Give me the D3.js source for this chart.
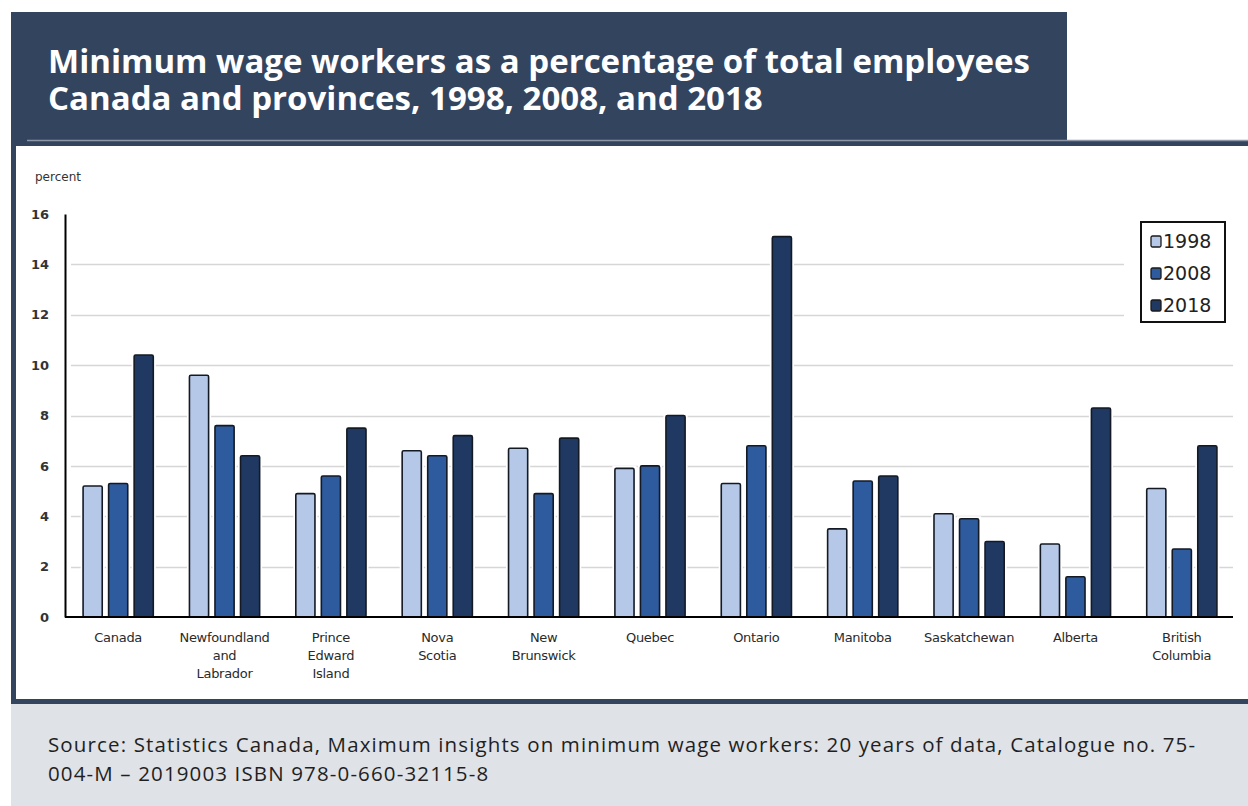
<!DOCTYPE html>
<html>
<head>
<meta charset="utf-8">
<script src="https://cdn.jsdelivr.net/npm/d3@7"></script>
<style>
  html, body { margin: 0; padding: 0; background: #ffffff; }
  svg { display: block; }
</style>
</head>
<body>
<svg id="chart" width="1248" height="806"></svg>
<script>
// Minimum wage workers as a share of employees, by province and year
const provinces = ["Canada", "Newfoundland and Labrador", "Prince Edward Island", "Nova Scotia",
  "New Brunswick", "Quebec", "Ontario", "Manitoba", "Saskatchewan", "Alberta", "British Columbia"];
const provinceLabelLines = [["Canada"], ["Newfoundland", "and", "Labrador"], ["Prince", "Edward", "Island"],
  ["Nova", "Scotia"], ["New", "Brunswick"], ["Quebec"], ["Ontario"], ["Manitoba"], ["Saskatchewan"],
  ["Alberta"], ["British", "Columbia"]];
const years = ["1998", "2008", "2018"];
const values1998 = [5.2, 9.6, 4.9, 6.6, 6.7, 5.9, 5.3, 3.5, 4.1, 2.9, 5.1];
const values2008 = [5.3, 7.6, 5.6, 6.4, 4.9, 6.0, 6.8, 5.4, 3.9, 1.6, 2.7];
const values2018 = [10.4, 6.4, 7.5, 7.2, 7.1, 8.0, 15.1, 5.6, 3.0, 8.3, 6.8];
const yTicks = [0, 2, 4, 6, 8, 10, 12, 14, 16];
const titleLines = ["Minimum wage workers as a percentage of total employees",
  "Canada and provinces, 1998, 2008, and 2018"];
const sourceLines = ["Source: Statistics Canada, Maximum insights on minimum wage workers: 20 years of data, Catalogue no. 75-",
  "004-M \u2013 2019003 ISBN 978-0-660-32115-8"];

const seriesValues = { "1998": values1998, "2008": values2008, "2018": values2018 };
const colors = { "1998": "#b6c8e8", "2008": "#2e5a9e", "2018": "#1f3963" };

const svg = d3.select("#chart");
const navy = "#33445f";

// Page frame: banner, chart panel border, footer
svg.append("rect").attr("x", 11).attr("y", 12).attr("width", 1056).attr("height", 130).attr("fill", navy);
svg.append("rect").attr("x", 11).attr("y", 140).attr("width", 1237).attr("height", 564).attr("fill", navy);
svg.append("line").attr("x1", 27).attr("x2", 1248).attr("y1", 140.5).attr("y2", 140.5)
  .attr("stroke", "#8d97a8").attr("stroke-width", 1.5);
svg.append("rect").attr("x", 16).attr("y", 146).attr("width", 1232).attr("height", 553).attr("fill", "#ffffff");
svg.append("rect").attr("x", 11).attr("y", 704).attr("width", 1237).attr("height", 102).attr("fill", "#dfe2e7");

// Multi-line text block; the first line is stretched to a target width through letter spacing
function textBlock(x, y0, lineGap, lines, size, weight, color, targetWidth) {
  const t = svg.append("text").attr("font-family", "'Open Sans', Lato, sans-serif")
    .attr("font-size", size).attr("font-weight", weight).attr("fill", color);
  const spans = lines.map((line, i) => t.append("tspan").attr("x", x).attr("y", y0 + i * lineGap).text(line));
  const w = spans[0].node().getComputedTextLength();
  const ls = (targetWidth - w) / Math.max(1, lines[0].length - 1);
  t.attr("letter-spacing", ls);
  return t;
}

textBlock(48, 73, 37, titleLines, 33, 700, "#ffffff", 982);
textBlock(48, 752, 29, sourceLines, 20.5, 400, "#1f1f1f", 1147);

// Scales
const x0 = d3.scaleBand().domain(provinces).range([65, 1235]).paddingInner(0.34).paddingOuter(0.17);
const x1 = d3.scaleBand().domain(years).range([0, x0.bandwidth()]).paddingInner(0.25);
const y = d3.scaleLinear().domain([0, 16]).range([617, 214]);

const chartFont = "'DejaVu Sans', Verdana, sans-serif";

// Gridlines
svg.append("g").selectAll("line").data(yTicks.filter(d => d > 0 && d < 16)).join("line")
  .attr("x1", 71).attr("x2", 1233)
  .attr("y1", d => Math.round(y(d)) + 0.5).attr("y2", d => Math.round(y(d)) + 0.5)
  .attr("stroke", "#d6d6d6").attr("stroke-width", 1.5);

// Bars
const rows = provinces.map((p, i) => ({ province: p, items: years.map(yr => ({ year: yr, value: seriesValues[yr][i] })) }));
const groups = svg.append("g").selectAll("g").data(rows).join("g")
  .attr("transform", d => `translate(${x0(d.province)},0)`);

// white halo behind each bar breaks the gridlines
groups.selectAll("rect.halo").data(d => d.items).join("rect").attr("class", "halo")
  .attr("x", d => x1(d.year) - 2.5).attr("width", x1.bandwidth() + 5)
  .attr("y", d => y(d.value) - 2.5).attr("height", d => y(0) - y(d.value) + 2.5)
  .attr("fill", "#ffffff");
groups.selectAll("rect.bar").data(d => d.items).join("rect").attr("class", "bar")
  .attr("x", d => x1(d.year)).attr("width", x1.bandwidth())
  .attr("y", d => y(d.value)).attr("height", d => y(0) - y(d.value))
  .attr("rx", 1.5)
  .attr("fill", d => colors[d.year]).attr("stroke", "#141a24").attr("stroke-width", 1.6);

// Axes
const yAxis = d3.axisLeft(y).tickValues(yTicks).tickSize(0).tickPadding(16);
const gy = svg.append("g").attr("transform", "translate(65,0)").call(yAxis);
gy.select(".domain").attr("stroke", "#000").attr("stroke-width", 2);
gy.selectAll("text").attr("font-family", chartFont).attr("font-size", 13)
  .attr("font-weight", 700).attr("fill", "#333");

const xAxis = d3.axisBottom(x0).tickSize(0).tickFormat(() => "");
const gx = svg.append("g").attr("transform", "translate(0,617)").call(xAxis);
gx.select(".domain").attr("d", "M65,0H1233").attr("stroke", "#000").attr("stroke-width", 2);

// Category labels (multi-line)
const labelG = svg.append("g");
provinces.forEach((p, i) => {
  const cx = x0(p) + x0.bandwidth() / 2;
  const txt = labelG.append("text").attr("text-anchor", "middle")
    .attr("font-family", chartFont).attr("font-size", 13).attr("letter-spacing", -0.3).attr("fill", "#2a2a2a");
  provinceLabelLines[i].forEach((line, j) => {
    txt.append("tspan").attr("x", cx).attr("y", 642 + j * 18).text(line);
  });
});

// Axis unit
svg.append("text").attr("x", 35).attr("y", 181).attr("font-family", chartFont)
  .attr("font-size", 12).attr("fill", "#333").text("percent");

// Legend
svg.append("rect").attr("x", 1124).attr("y", 212).attr("width", 111).attr("height", 118).attr("fill", "#ffffff");
const legend = svg.append("g");
legend.append("rect").attr("x", 1141).attr("y", 222).attr("width", 84).attr("height", 100)
  .attr("fill", "#ffffff").attr("stroke", "#111").attr("stroke-width", 2);
const legendItems = legend.selectAll("g").data(years).join("g")
  .attr("transform", (d, i) => `translate(1151,${241 + i * 32})`);
legendItems.append("rect").attr("x", 0).attr("y", -5).attr("width", 10).attr("height", 11).attr("rx", 1.5)
  .attr("fill", d => colors[d]).attr("stroke", "#1a1a1a").attr("stroke-width", 1.3);
legendItems.append("text").attr("x", 12).attr("y", 0).attr("dy", "0.36em")
  .attr("font-family", chartFont).attr("font-size", 19).attr("fill", "#222").text(d => d);
</script>
</body>
</html>
